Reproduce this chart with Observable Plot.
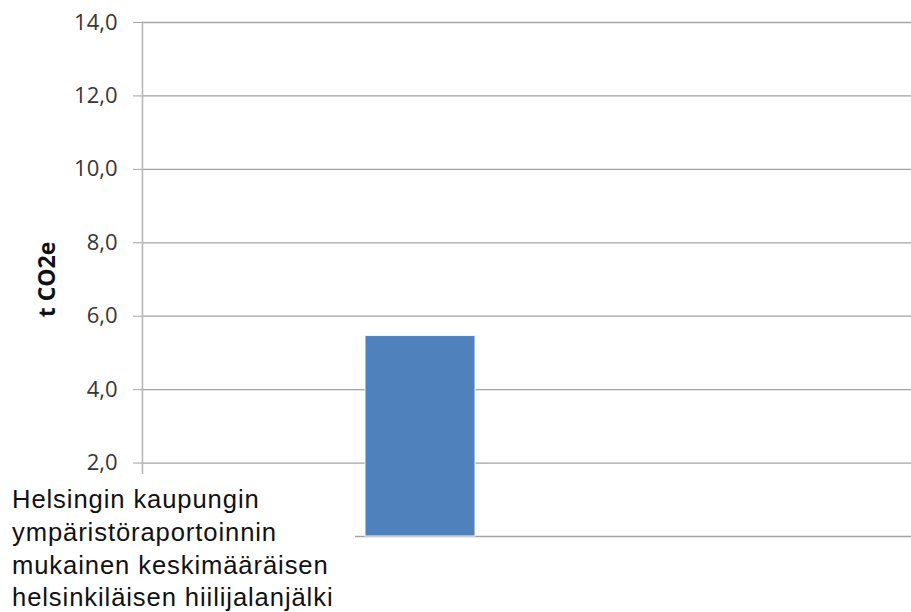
<!DOCTYPE html>
<html>
<head>
<meta charset="utf-8">
<script src="https://cdn.jsdelivr.net/npm/d3@7"></script>
<script src="https://cdn.jsdelivr.net/npm/@observablehq/plot@0.6"></script>
<style>
  html, body { margin: 0; padding: 0; background: #fff; }
  #wrap { position: relative; width: 911px; height: 612px; overflow: hidden; }
  #cat {
    position: absolute; left: 0; top: 474px; width: 355px; height: 138px;
    background: #fff; box-sizing: border-box; padding: 9px 0 0 12px;
    font-family: "Liberation Sans", Arial, sans-serif; font-size: 25.6px;
    letter-spacing: 0.9px; line-height: 32.8px; color: #111;
  }
  #cat span { display: block; width: 343px; }
</style>
</head>
<body>
<div id="wrap"></div>
<script>
// Data
const categories = ["Helsingin kaupungin ympäristöraportoinnin mukainen keskimääräisen helsinkiläisen hiilijalanjälki"];
const values = [5.46];
const yTicks = [0, 2, 4, 6, 8, 10, 12, 14];
const yLabel = "t CO2e";

const data = categories.map((c, i) => ({category: c, value: values[i]}));
const fmt = d => d.toFixed(1).replace(".", ",");
// the 0,0 label is hidden behind the category label box in the reference
const labelledTicks = yTicks.filter(d => d > 0);

const chart = Plot.plot({
  width: 911,
  height: 612,
  marginLeft: 142,
  marginRight: 0,
  marginTop: 22,
  marginBottom: 76,
  style: {fontFamily: "'Open Sans', sans-serif", fontSize: "22px", color: "#363636", background: "#fff"},
  x: {domain: categories, range: [142, 698], padding: 0.6697, axis: null},
  y: {domain: [0, 14], ticks: yTicks, tickFormat: fmt, label: null},
  marks: [
    Plot.ruleY(yTicks, {stroke: "#a3a3a3", strokeWidth: 1.3}),
    Plot.axisY({ticks: labelledTicks, tickFormat: fmt, tickSize: 9, tickPadding: 16, stroke: "#a3a3a3", strokeOpacity: 1, label: null}),
    Plot.axisY({ticks: [], tickSize: 0, label: yLabel, labelAnchor: "center", labelArrow: "none",
      labelOffset: 104, fontWeight: "bold", fontSize: 23, fill: "#111"}),
    Plot.frame({anchor: "left", stroke: "#b5b5b5", strokeWidth: 1.5}),
    Plot.barY(data, {x: "category", y: "value", fill: "#4F81BD", stroke: "#f2f5fa", strokeWidth: 1})
  ]
});

const wrap = document.getElementById("wrap");
wrap.appendChild(chart);
const cat = document.createElement("div");
cat.id = "cat";
const span = document.createElement("span");
span.textContent = categories[0];
cat.appendChild(span);
wrap.appendChild(cat);
</script>
</body>
</html>
